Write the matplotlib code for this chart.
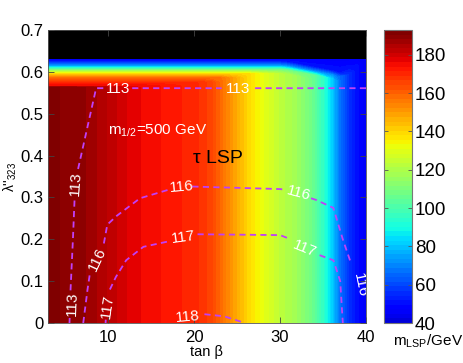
import numpy as np
import matplotlib
matplotlib.use('Agg')
import matplotlib.pyplot as plt

plt.rcParams['font.family'] = ['Liberation Sans', 'DejaVu Sans']
plt.rcParams['mathtext.fontset'] = 'custom'
plt.rcParams['mathtext.rm'] = 'Liberation Sans'
plt.rcParams['mathtext.it'] = 'Liberation Sans:italic'
plt.rcParams['mathtext.bf'] = 'Liberation Sans:bold'

# ---------------- data ----------------
tan_beta = np.arange(3, 41)
# LSP mass (GeV) below the band, per tan beta column
base_mass = [192, 191, 190, 190, 189, 187, 185, 183, 181, 179,
             177, 176, 175, 174, 173, 172, 171, 170, 168, 165,
             159, 153, 147, 141, 136, 131, 127, 123, 120, 116,
             111, 105, 95, 82, 66, 56, 50, 45]
# downward shift of the top band (in lambda) per tan beta column
band_shift = [0] * 28 + [0.002, 0.006, 0.010, 0.014, 0.018, 0.022, 0.028, 0.020, 0.010, 0.005]
lam_low = [0.0, 0.45]
band_lam = [0.563, 0.566, 0.575, 0.585, 0.595, 0.605, 0.615, 0.625]
band_mass = [193, 176, 170, 158, 140, 108, 72, 52]
top_lam = 0.631
top_mass = 46
lam_black = 0.631

# Higgs-mass contours (tan beta, lambda); nan = gap for label
c113_x = [5.5, 5.52, np.nan, 5.62, 5.9, 6.1, np.nan, 6.5, 8.6, 9.6, np.nan, 12.8, 23.2, np.nan, 27.1, 40]
c113_y = [0.0, 0.012, np.nan, 0.078, 0.2, 0.30, np.nan, 0.368, 0.561, 0.561, np.nan, 0.561, 0.561, np.nan, 0.561, 0.561]
c116_x = [7.1, 7.6, 7.85, np.nan, 9.5, 9.9, 11.0, 13.7, 16.8, 17.2, np.nan, 19.8, 30.0, 30.7, np.nan,
          33.6, 34.2, 36.2, 37.3, 38.3]
c116_y = [0.0, 0.08, 0.115, np.nan, 0.19, 0.235, 0.256, 0.298, 0.317, 0.319, np.nan, 0.326, 0.32, 0.318, np.nan,
          0.298, 0.294, 0.275, 0.20, 0.14]
c117_x = [9.7, 9.72, np.nan, 10.2, 10.9, 12.1, 14.1, 16.8, 17.2, np.nan, 20.4, 30.0, 31.0, np.nan,
          34.6, 36.2, 37.0, 37.3]
c117_y = [0.0, 0.008, np.nan, 0.08, 0.11, 0.15, 0.182, 0.194, 0.196, np.nan, 0.212, 0.21, 0.202, np.nan,
          0.162, 0.15, 0.10, 0.0]
c118_x = [21.2, 23.5, 25.9]
c118_y = [0.021, 0.016, 0.0]

labels_text = ['113', '113', '113', '113', '116', '116', '116', '116', '117', '117', '117', '118']
labels_x = [5.85, 6.25, 11.2, 25.15, 8.75, 18.5, 32.2, 39.3, 9.95, 18.8, 32.8, 19.3]
labels_y = [0.045, 0.334, 0.559, 0.559, 0.152, 0.326, 0.31, 0.09, 0.04, 0.205, 0.178, 0.014]
labels_rot = [88, 86, 0, 0, 65, 5, -15, -78, 82, 8, -22, 5]

cbar_ticks = [40, 60, 80, 100, 120, 140, 160, 180]
x_ticks = [10, 20, 30, 40]
y_ticks = [0, 0.1, 0.2, 0.3, 0.4, 0.5, 0.6, 0.7]
y_ticklabels = ['0', '0.1', '0.2', '0.3', '0.4', '0.5', '0.6', '0.7']

# ---------------- grid ----------------
base = np.array(base_mass, float)
shift = np.array(band_shift, float)
nx = len(tan_beta)
Yrows, Zrows = [], []
for l in lam_low:
    Yrows.append(np.full(nx, l)); Zrows.append(base.copy())
for l, m in zip(band_lam, band_mass):
    Yrows.append(l - shift); Zrows.append(np.minimum(base, m))
Yrows.append(np.full(nx, top_lam)); Zrows.append(np.minimum(base, top_mass))
Y = np.array(Yrows)
Z = np.array(Zrows)
X = np.tile(tan_beta.astype(float), (len(Yrows), 1))

W, H = 463, 363
fig = plt.figure(figsize=(W / 100, H / 100), dpi=100)
ax = fig.add_axes([48 / W, 40 / H, 318 / W, 293 / H])
cax = fig.add_axes([384 / W, 40 / H, 28 / W, 293 / H])

vmin, vmax = 40, 193
levels = np.linspace(vmin, vmax, 65)
colors = plt.cm.jet(np.linspace(0.08, 1.0, 64))
cf = ax.contourf(X, Y, Z, levels=levels, colors=colors, antialiased=False)
ax.axhspan(lam_black, 0.7, color='black', lw=0)

lc = '#c040f8'
for cx, cy in [(c113_x, c113_y), (c116_x, c116_y), (c117_x, c117_y), (c118_x, c118_y)]:
    ax.plot(cx, cy, color=lc, lw=1.3, linestyle=(0, (3.4, 2.4)), clip_on=True)
for t, x, y, r in zip(labels_text, labels_x, labels_y, labels_rot):
    ax.text(x, y, t, color='white', fontsize=11, rotation=r, ha='center', va='center',
            rotation_mode='anchor', clip_on=True)

ax.text(9.98, 0.449, r'm$_{\mathrm{1/2}}$=500 GeV', color='white', fontsize=11, va='baseline', ha='left')
ax.text(19.86, 0.382, 'τ LSP', color='black', fontsize=14, va='baseline', ha='left')

ax.set_xlim(3, 40)
ax.set_ylim(0, 0.7)
ax.set_xticks(x_ticks)
ax.set_yticks(y_ticks)
ax.set_yticklabels(y_ticklabels)
ax.tick_params(direction='in', top=True, right=True, length=4, width=0.6, labelsize=12, color='#444444')
ax.tick_params(axis='x', pad=5)
ax.set_xlabel('tan β', fontsize=10.5, labelpad=0)
ax.set_ylabel("λ''$_{\\mathrm{323}}$", fontsize=10)
ax.yaxis.set_label_coords(-0.092, 0.5)
for s in ax.spines.values():
    s.set_linewidth(0.6)
    s.set_color('#555555')

cb = fig.colorbar(cf, cax=cax, ticks=cbar_ticks)
cb.outline.set_linewidth(0.8)
cb.outline.set_edgecolor('#777777')
cax.tick_params(direction='in', left=True, right=True, length=3, width=0.6, labelsize=13.5, pad=2, color='#555555')
cax.set_yticklabels([str(t) for t in cbar_ticks])
fig.text(393 / W, 1 - 346 / H, r'm$_{\mathrm{LSP}}$/GeV', fontsize=11, ha='left', va='baseline')

fig.savefig('out.png', dpi=100)
